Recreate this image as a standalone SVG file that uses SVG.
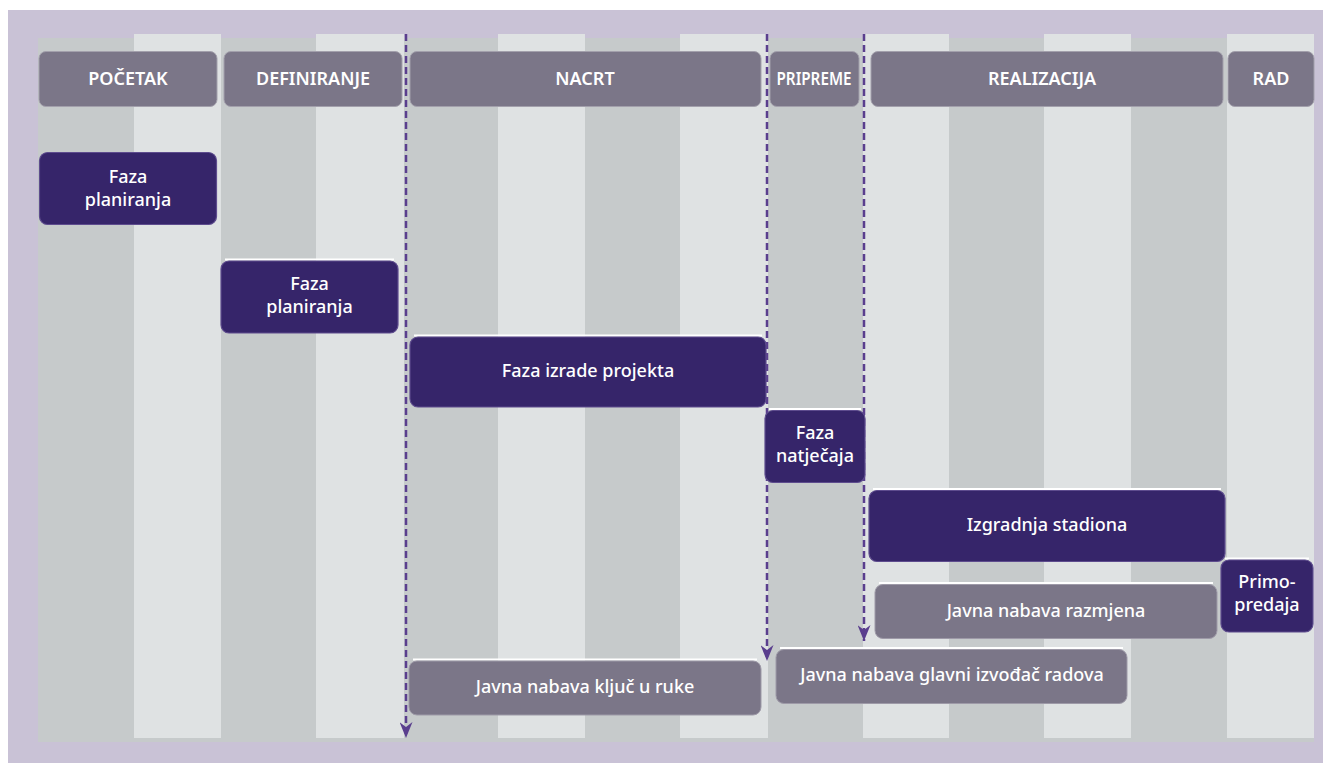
<svg xmlns="http://www.w3.org/2000/svg" width="1323" height="763" viewBox="0 0 1323 763">
<defs>
<style>
.bg{fill:#C9C2D6}
.dk{fill:#C6CACB}
.lt{fill:#DFE2E3}
.hdr{fill:#7B7688;stroke:#A3A0AC;stroke-width:1}
.ph{fill:#36256A;stroke:#5E4C8E;stroke-width:1.2}
.gb{fill:#7B7688;stroke:#9E9AA8;stroke-width:1}
.hl{stroke:#FFFFFF;stroke-width:2}
.ht{font-family:"Noto Sans","Liberation Sans",sans-serif;font-size:18px;font-weight:600;fill:#FFFFFF;text-anchor:middle}
.bt{font-family:"Noto Sans","Liberation Sans",sans-serif;font-size:18px;font-weight:500;fill:#FFFFFF;text-anchor:middle}
.dash{stroke:#5A3E8E;stroke-width:2.5;stroke-dasharray:7 4;fill:none}
</style>
<marker id="arr" markerWidth="16" markerHeight="13" refX="16" refY="6.5" orient="auto" markerUnits="userSpaceOnUse" viewBox="0 0 16 13">
<path d="M0,0 L5,6.5 L0,13 L16,6.5 Z" fill="#5A3E8E"/>
</marker>
</defs>
<rect x="8" y="10" width="1315" height="753" class="bg"/>
<g id="stripes">
<rect x="38" y="38" width="1276" height="704" class="dk"/>
<rect x="134" y="34" width="87" height="704" class="lt"/>
<rect x="316" y="34" width="88" height="704" class="lt"/>
<rect x="498" y="34" width="87" height="704" class="lt"/>
<rect x="680" y="34" width="88" height="704" class="lt"/>
<rect x="863" y="34" width="86" height="704" class="lt"/>
<rect x="1044" y="34" width="87" height="704" class="lt"/>
<rect x="1227" y="34" width="87" height="704" class="lt"/>
</g>
<g id="headers">
<g id="h-pocetak"><rect x="39" y="51.5" width="178" height="55" rx="7" class="hdr"/><text x="128" y="85" class="ht">POČETAK</text></g>
<g id="h-definiranje"><rect x="224" y="51.5" width="178" height="55" rx="7" class="hdr"/><text x="313" y="85" class="ht">DEFINIRANJE</text></g>
<g id="h-nacrt"><rect x="410" y="51.5" width="351" height="55" rx="7" class="hdr"/><text x="585" y="85" class="ht">NACRT</text></g>
<g id="h-pripreme"><rect x="770" y="51.5" width="89" height="55" rx="7" class="hdr"/><text x="814" y="85" class="ht" textLength="75" lengthAdjust="spacingAndGlyphs">PRIPREME</text></g>
<g id="h-realizacija"><rect x="871" y="51.5" width="352" height="55" rx="7" class="hdr"/><text x="1042" y="85" class="ht">REALIZACIJA</text></g>
<g id="h-rad"><rect x="1228" y="51.5" width="86" height="55" rx="7" class="hdr"/><text x="1271" y="85" class="ht">RAD</text></g>
</g>
<g id="connectors">
<line x1="406" y1="34" x2="406" y2="738" class="dash" marker-end="url(#arr)"/>
<line x1="767" y1="34" x2="767" y2="661" class="dash" marker-end="url(#arr)"/>
<line x1="864" y1="34" x2="864" y2="641" class="dash" marker-end="url(#arr)"/>
</g>
<g id="n1"><rect x="39.5" y="152.5" width="177" height="72" rx="8" class="ph"/><text x="128" y="183" class="bt">Faza</text><text x="128" y="206" class="bt">planiranja</text></g>
<g id="n2"><line x1="225" y1="259.5" x2="394" y2="259.5" class="hl"/><rect x="221" y="261" width="177" height="72" rx="8" class="ph"/><text x="309.5" y="290" class="bt">Faza</text><text x="309.5" y="313" class="bt">planiranja</text></g>
<g id="n3"><line x1="414" y1="335.5" x2="762" y2="335.5" class="hl"/><rect x="410" y="337" width="356" height="70" rx="8" class="ph"/><text x="588" y="377" class="bt">Faza izrade projekta</text></g>
<g id="n4"><line x1="769" y1="409" x2="861" y2="409" class="hl"/><rect x="765" y="410.5" width="100" height="72" rx="8" class="ph"/><text x="815" y="439" class="bt">Faza</text><text x="815" y="462" class="bt">natječaja</text></g>
<g id="n5"><line x1="873" y1="489" x2="1221" y2="489" class="hl"/><rect x="869" y="490.5" width="356" height="71" rx="8" class="ph"/><text x="1047" y="531" class="bt">Izgradnja stadiona</text></g>
<g id="n6"><line x1="1225" y1="558.5" x2="1309" y2="558.5" class="hl"/><rect x="1221" y="560" width="92" height="72" rx="8" class="ph"/><text x="1267" y="588" class="bt">Primo-</text><text x="1267" y="611" class="bt">predaja</text></g>
<g id="g1"><line x1="879" y1="583" x2="1213" y2="583" class="hl"/><rect x="875" y="584.5" width="342" height="54" rx="8" class="gb"/><text x="1046" y="617" class="bt">Javna nabava razmjena</text></g>
<g id="g2"><line x1="780" y1="648" x2="1123" y2="648" class="hl"/><rect x="776" y="649.5" width="351" height="54" rx="8" class="gb"/><text x="952" y="681" class="bt">Javna nabava glavni izvođač radova</text></g>
<g id="g3"><line x1="413" y1="659.5" x2="757" y2="659.5" class="hl"/><rect x="409" y="661" width="352" height="54" rx="8" class="gb"/><text x="585" y="693" class="bt">Javna nabava ključ u ruke</text></g>
</svg>
